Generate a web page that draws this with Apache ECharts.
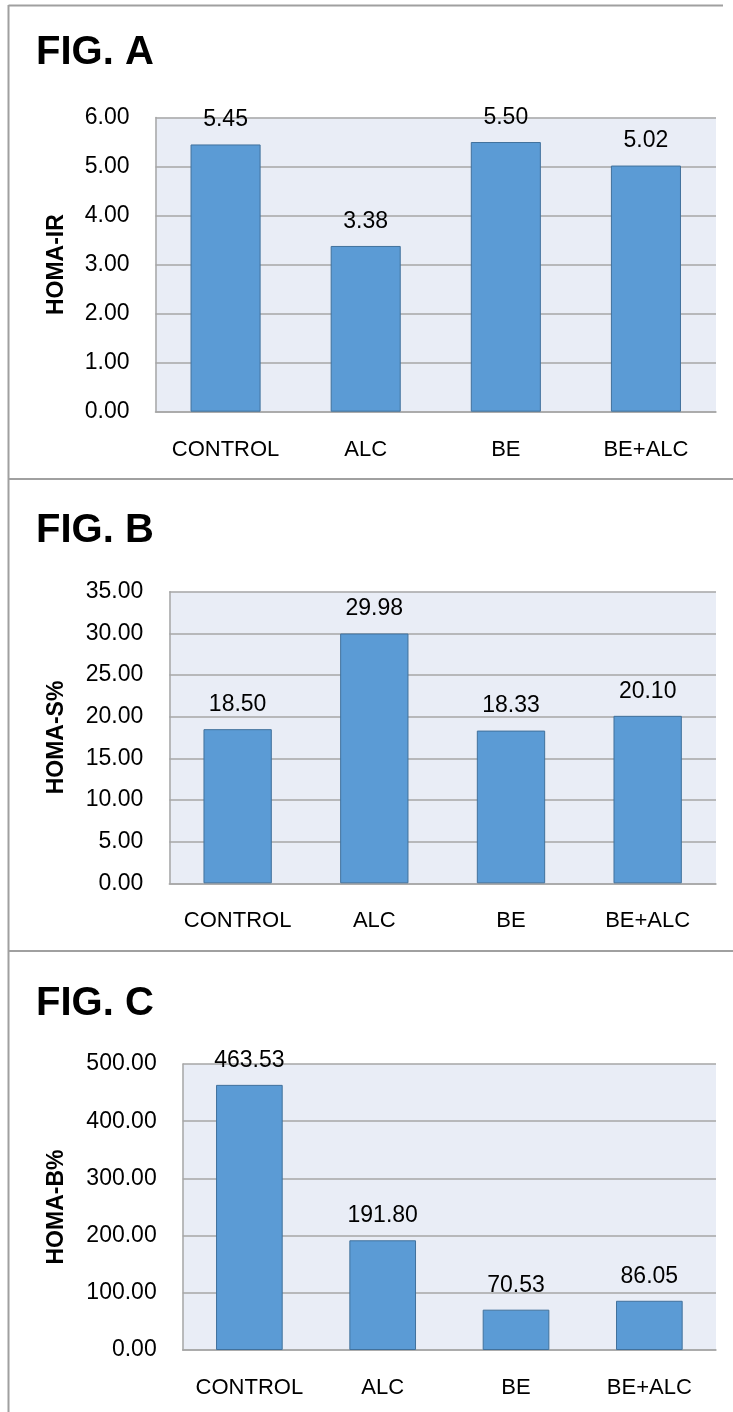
<!DOCTYPE html>
<html>
<head>
<meta charset="utf-8">
<style>
  html, body { margin: 0; padding: 0; background: #fff; }
  #chart { width: 733px; height: 1412px; }
</style>
<script src="https://cdn.jsdelivr.net/npm/echarts@6/dist/echarts.min.js"></script>
</head>
<body>
<div id="chart"></div>
<script>
// Group names shared by all three panels
const categories = ['CONTROL', 'ALC', 'BE', 'BE+ALC'];

// Panel values
const homaIR = [5.45, 3.38, 5.50, 5.02];
const homaS = [18.50, 29.98, 18.33, 20.10];
const homaB = [463.53, 191.80, 70.53, 86.05];

// Axis ranges (max, interval)
const axisIR = [6, 1];
const axisS = [35, 5];
const axisB = [500, 100];

const panelTitles = ['FIG. A', 'FIG. B', 'FIG. C'];
const axisNames = ['HOMA-IR', 'HOMA-S%', 'HOMA-B%'];

const FONT = '"Liberation Sans", Arial, sans-serif';
const GRID_GRAY = '#a6a6a6';
const FRAME_GRAY = '#a0a0a0';

const panels = [
  { values: homaIR, axis: axisIR, grid: { left: 155.5, top: 117.5, right: 17, height: 294.2 }, nameGap: 87, titleY: 52 },
  { values: homaS,  axis: axisS,  grid: { left: 169.3, top: 591.7, right: 17, height: 291.6 }, nameGap: 101, titleY: 530 },
  { values: homaB,  axis: axisB,  grid: { left: 182.7, top: 1064,  right: 17, height: 286 },   nameGap: 115, titleY: 1003 }
];

const grid = [], xAxis = [], yAxis = [], series = [], graphic = [];

panels.forEach((p, i) => {
  grid.push(Object.assign({
    containLabel: false,
    show: true,
    backgroundColor: '#e9edf6',
    borderWidth: 0
  }, p.grid));

  xAxis.push({
    type: 'category',
    gridIndex: i,
    data: categories,
    axisTick: { show: false },
    axisLine: { show: true, lineStyle: { color: GRID_GRAY, width: 1.5 } },
    axisLabel: { interval: 0, color: '#000', fontFamily: FONT, fontSize: 22, margin: 27 }
  });

  yAxis.push({
    type: 'value',
    gridIndex: i,
    min: 0,
    max: p.axis[0],
    interval: p.axis[1],
    name: axisNames[i],
    nameLocation: 'middle',
    nameRotate: 90,
    nameGap: p.nameGap,
    nameTextStyle: { color: '#000', fontFamily: FONT, fontSize: 23, fontWeight: 'bold' },
    axisLine: { show: true, lineStyle: { color: GRID_GRAY, width: 1.5 } },
    axisTick: { show: false },
    splitLine: { show: true, lineStyle: { color: GRID_GRAY, width: 1.5 } },
    axisLabel: {
      color: '#000', fontFamily: FONT, fontSize: 23, margin: 26,
      formatter: v => v.toFixed(2)
    }
  });

  series.push({
    type: 'bar',
    xAxisIndex: i,
    yAxisIndex: i,
    data: p.values,
    barWidth: '50%',
    itemStyle: { color: '#5b9bd5', borderColor: '#41719c', borderWidth: 1 },
    label: {
      show: true,
      position: 'top',
      distance: 13,
      color: '#000',
      fontFamily: FONT,
      fontSize: 23,
      formatter: d => d.value.toFixed(2)
    }
  });

  graphic.push({
    type: 'text',
    left: 36,
    top: p.titleY - 19,
    style: {
      text: panelTitles[i],
      fill: '#000',
      font: 'bold 40px ' + FONT
    }
  });
});

// Outer frame and panel separators
graphic.push(
  { type: 'line', shape: { x1: 8.5, y1: 5, x2: 8.5, y2: 1412 }, style: { stroke: FRAME_GRAY, lineWidth: 2 } },
  { type: 'line', shape: { x1: 8.5, y1: 5.5, x2: 723, y2: 5.5 }, style: { stroke: FRAME_GRAY, lineWidth: 2 } },
  { type: 'line', shape: { x1: 8.5, y1: 479, x2: 733, y2: 479 }, style: { stroke: FRAME_GRAY, lineWidth: 2 } },
  { type: 'line', shape: { x1: 8.5, y1: 951, x2: 733, y2: 951 }, style: { stroke: FRAME_GRAY, lineWidth: 2 } }
);

const chart = echarts.init(document.getElementById('chart'), null, { renderer: 'canvas' });
chart.setOption({
  animation: false,
  backgroundColor: '#fff',
  grid, xAxis, yAxis, series, graphic
});
</script>
</body>
</html>
